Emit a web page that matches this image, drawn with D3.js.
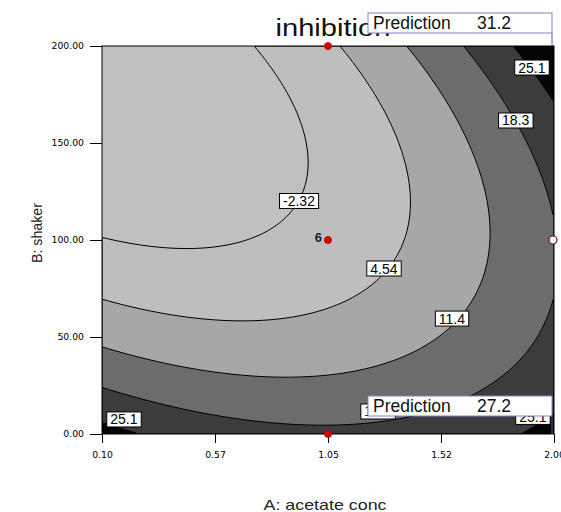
<!DOCTYPE html>
<html>
<head>
<meta charset="utf-8">
<script src="https://cdn.jsdelivr.net/npm/d3@7"></script>
<style>
body { margin: 0; background: #fff; }
</style>
</head>
<body>
<svg id="chart" width="561" height="512"></svg>
<script>
// contour levels and band fills (lowest band first)
var levels = [-2.32, 4.54, 11.4, 18.3, 25.1];
var bandColors = ["#c0c0c0", "#bebebe", "#a7a7a7", "#6c6c6c", "#3c3c3c", "#050505"];

// quadratic response surface in coded units (A, B in -1..1):
// const, A, B, AB, A^2, B^2  (estimated from the contour lines)
var coef = [0.297, 10.019, -8.105, 10.156, 7.646, 11.270];

var xTicks = [0.10, 0.575, 1.05, 1.525, 2.00];
var xTickLabels = ["0.10", "0.57", "1.05", "1.52", "2.00"];
var yTicks = [0, 50, 100, 150, 200];
var yTickLabels = ["0.00", "50.00", "100.00", "150.00", "200.00"];

// where each contour label sits (A, B)
var labelText = ["-2.32", "4.54", "11.4", "18.3", "25.1", "25.1", "18.3", "25.1"];
var labelA = [0.928, 1.285, 1.571, 1.839, 1.907, 0.192, 1.26, 1.911];
var labelB = [120.1, 85.3, 59.5, 161.6, 188.9, 7.5, 11.6, 8.8];

// design points
var designA = [1.05, 1.05, 1.05];
var designB = [200, 100, 0];
var centerRuns = "6";
var flagPointA = 2.00, flagPointB = 100;

// prediction flags
var predA = [2.00, 2.00];
var predB = [200, 0];
var predValue = ["31.2", "27.2"];

function model(A, B) {
  var a = (A - 1.05) / 0.95, b = (B - 100) / 100;
  return coef[0] + coef[1] * a + coef[2] * b + coef[3] * a * b + coef[4] * a * a + coef[5] * b * b;
}

var svg = d3.select("#chart");
var pLeft = 102, pRight = 554, pTop = 46, pBottom = 434;
var x = d3.scaleLinear().domain([0.1, 2.0]).range([pLeft, pRight]);
var y = d3.scaleLinear().domain([0, 200]).range([pBottom, pTop]);

// sample the surface on a fine grid and contour it
var nx = 226, ny = 194;
var grid = new Array(nx * ny);
for (var j = 0; j < ny; j++) {
  for (var i = 0; i < nx; i++) {
    grid[j * nx + i] = model(0.1 + 1.9 * (i + 0.5) / nx, 200 - 200 * (j + 0.5) / ny);
  }
}
var contours = d3.contours().size([nx, ny]).thresholds(levels)(grid);
var gx = d3.scaleLinear().domain([0, nx]).range([pLeft, pRight]);
var gy = d3.scaleLinear().domain([0, ny]).range([pTop, pBottom]);
var path = d3.geoPath(d3.geoTransform({
  point: function (px, py) { this.stream.point(gx(px), gy(py)); }
}));

svg.append("clipPath").attr("id", "clip")
  .append("rect").attr("x", pLeft).attr("y", pTop)
  .attr("width", pRight - pLeft).attr("height", pBottom - pTop);

var plot = svg.append("g").attr("clip-path", "url(#clip)");
plot.append("rect").attr("x", pLeft).attr("y", pTop)
  .attr("width", pRight - pLeft).attr("height", pBottom - pTop)
  .attr("fill", bandColors[0]);
plot.selectAll("path.band").data(contours).enter().append("path")
  .attr("class", "band")
  .attr("d", path)
  .attr("fill", function (d, i) { return bandColors[i + 1]; })
  .attr("stroke", "#000")
  .attr("stroke-width", 1);

// contour labels
var lab = plot.selectAll("g.clabel").data(labelText).enter().append("g")
  .attr("class", "clabel")
  .attr("transform", function (d, i) { return "translate(" + x(labelA[i]) + "," + y(labelB[i]) + ")"; });
lab.append("text")
  .attr("text-anchor", "middle")
  .attr("y", 5)
  .attr("font-family", "Liberation Sans, Arial, sans-serif")
  .attr("font-size", 14)
  .attr("fill", "#000")
  .text(function (d) { return d; });
lab.each(function () {
  var g = d3.select(this);
  var bb = g.select("text").node().getBBox();
  g.insert("rect", "text")
    .attr("x", bb.x - 3.5).attr("y", -7.5)
    .attr("width", bb.width + 7).attr("height", 15)
    .attr("fill", "#fff").attr("stroke", "#000").attr("stroke-width", 1);
});

// frame
svg.append("rect").attr("x", pLeft).attr("y", pTop)
  .attr("width", pRight - pLeft).attr("height", pBottom - pTop)
  .attr("fill", "none").attr("stroke", "#000");

// axes
var yAxis = svg.append("g").attr("transform", "translate(" + pLeft + ",0)")
  .call(d3.axisLeft(y).tickValues(yTicks).tickSize(12).tickPadding(6)
    .tickFormat(function (d, i) { return yTickLabels[i]; }));
var xAxis = svg.append("g").attr("transform", "translate(0," + pBottom + ")")
  .call(d3.axisBottom(x).tickValues(xTicks).tickSize(9).tickPadding(8)
    .tickFormat(function (d, i) { return xTickLabels[i]; }));
[yAxis, xAxis].forEach(function (g) {
  g.select(".domain").remove();
  g.selectAll("line").attr("stroke", "#000");
  g.selectAll("text").attr("font-family", "DejaVu Sans").attr("font-size", 9.3).attr("fill", "#000");
});

// axis titles
svg.append("text")
  .attr("x", 325).attr("y", 510)
  .attr("text-anchor", "middle")
  .attr("font-family", "Liberation Sans, Arial, sans-serif")
  .attr("font-size", 15)
  .attr("textLength", 123).attr("lengthAdjust", "spacingAndGlyphs")
  .attr("fill", "#222")
  .text("A: acetate conc");
svg.append("text")
  .attr("transform", "translate(42,233) rotate(-90)")
  .attr("text-anchor", "middle")
  .attr("font-family", "Liberation Sans, Arial, sans-serif")
  .attr("font-size", 15)
  .attr("textLength", 60).attr("lengthAdjust", "spacingAndGlyphs")
  .attr("fill", "#222")
  .text("B: shaker");

// design points
svg.selectAll("circle.design").data(designA).enter().append("circle")
  .attr("class", "design")
  .attr("cx", function (d) { return x(d); })
  .attr("cy", function (d, i) { return y(designB[i]); })
  .attr("r", 3.5)
  .attr("fill", "#e00000").attr("stroke", "#a00000").attr("stroke-width", 0.8);
svg.append("text")
  .attr("x", x(designA[1]) - 6).attr("y", y(designB[1]) + 2)
  .attr("text-anchor", "end")
  .attr("font-family", "Liberation Sans, Arial, sans-serif")
  .attr("font-size", 13).attr("font-weight", "bold")
  .attr("fill", "#1c1c3c")
  .text(centerRuns);
svg.append("circle")
  .attr("cx", x(flagPointA) - 1).attr("cy", y(flagPointB))
  .attr("r", 4)
  .attr("fill", "#fff").attr("stroke", "#6b1010").attr("stroke-width", 1.2);

// title
svg.append("text")
  .attr("x", 333).attr("y", 36)
  .attr("text-anchor", "middle")
  .attr("font-family", "Liberation Sans, Arial, sans-serif")
  .attr("font-size", 23)
  .attr("textLength", 115).attr("lengthAdjust", "spacingAndGlyphs")
  .attr("fill", "#111")
  .text("inhibition");

// prediction flags drawn over everything
var flagRise = [33, 38];
var flags = svg.selectAll("g.flag").data(predValue).enter().append("g")
  .attr("class", "flag")
  .attr("transform", function (d, i) {
    return "translate(" + (x(predA[i]) - 2) + "," + (y(predB[i]) - flagRise[i]) + ")";
  });
flags.append("line")
  .attr("x1", 0).attr("y1", 20)
  .attr("x2", 0).attr("y2", function (d, i) { return flagRise[i]; })
  .attr("stroke", "#5a5ab4").attr("stroke-width", 1);
flags.append("rect")
  .attr("x", -184).attr("y", 0)
  .attr("width", 184).attr("height", 20)
  .attr("fill", "#fff").attr("stroke", "#8080c0").attr("stroke-width", 1);
flags.append("text")
  .attr("x", -179).attr("y", 16)
  .attr("font-family", "Liberation Sans, Arial, sans-serif")
  .attr("font-size", 17.5)
  .attr("fill", "#111")
  .text("Prediction");
flags.append("text")
  .attr("x", -75).attr("y", 16)
  .attr("font-family", "Liberation Sans, Arial, sans-serif")
  .attr("font-size", 17.5)
  .attr("fill", "#111")
  .text(function (d) { return d; });
</script>
</body>
</html>
